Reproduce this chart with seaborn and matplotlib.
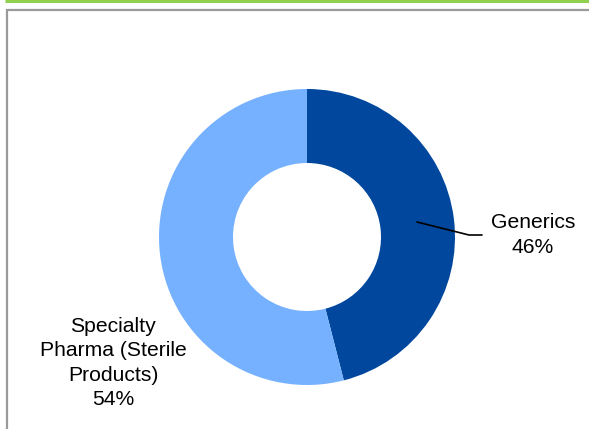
import matplotlib.pyplot as plt
import seaborn as sns
from matplotlib.patches import Rectangle

# data
segments = ['Generics', 'Specialty\nPharma (Sterile\nProducts)']
shares = [46, 54]
colors = ['#00479D', '#76B1FF']

sns.set_theme(style="white")
plt.rcParams['font.family'] = ['Liberation Sans', 'DejaVu Sans']

W, H = 589, 429
fig = plt.figure(figsize=(W / 100, H / 100), dpi=100)
ax = fig.add_axes([0, 0, 1, 1])
ax.set_xlim(0, W)
ax.set_ylim(0, H)
ax.set_aspect('equal')
ax.axis('off')

# frame: green rule on top, grey box below it
ax.plot([5, W], [H - 1, H - 1], color='#92D050', lw=2.2, solid_capstyle='butt')
ax.add_patch(Rectangle((6.5, -5), W, H - 9.5 + 5, fill=False, edgecolor='#9A9A9A', lw=1.6))

cx, cy, r = 307, H - 237, 148
wedges, _ = ax.pie(shares, colors=colors, startangle=90, counterclock=False,
                   center=(cx, cy), radius=r, frame=True,
                   wedgeprops=dict(width=74, edgecolor='none'))
ax.set_xlim(0, W)
ax.set_ylim(0, H)
ax.axis('off')

# labels
ax.plot([417, 469, 482], [H - 222, H - 235, H - 235], color='black', lw=1.2)
ax.text(533, H - 235, f"{segments[0]}\n{shares[0]}%", ha='center', va='center',
        fontsize=15.2, linespacing=1.35, color='black')
ax.text(113, H - 363, f"{segments[1]}\n{shares[1]}%", ha='center', va='center',
        fontsize=15.2, linespacing=1.35, color='black')

fig.savefig('out.png', dpi=100)
